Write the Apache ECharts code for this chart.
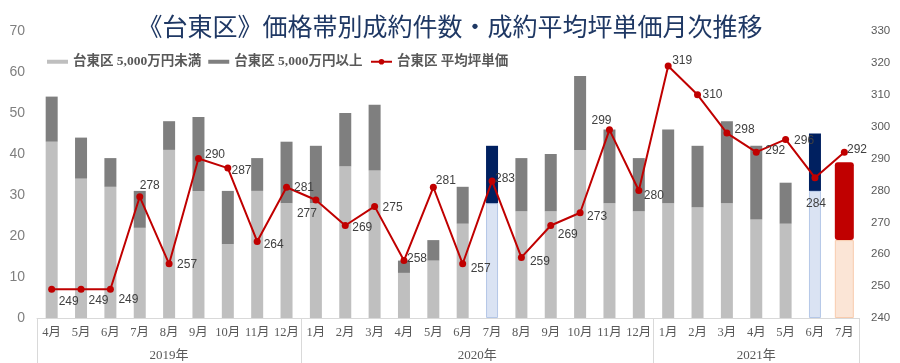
<!DOCTYPE html>
<html>
<head>
<meta charset="utf-8">
<script src="https://cdn.jsdelivr.net/npm/echarts@6/dist/echarts.min.js"></script>
<style>
html,body{margin:0;padding:0;background:#fff;}
#chart{width:900px;height:363px;}
</style>
</head>
<body>
<div id="chart"></div>
<script>
const months = ['4月','5月','6月','7月','8月','9月','10月','11月','12月',
  '1月','2月','3月','4月','5月','6月','7月','8月','9月','10月','11月','12月',
  '1月','2月','3月','4月','5月','6月','7月'];
const yearLabels = ['2019年','2020年','2021年'];
const monthsPerYear = [9, 12, 7];
const under5000 = [43,34,32,22,41,31,18,31,28, 28,37,36,11,14,23,28,26,26,41,28,26, 28,27,28,24,23,31,19];
const over5000  = [11,10,7,9,7,18,13,8,15, 14,13,16,3,5,9,14,13,14,18,18,13, 18,15,20,18,10,14,19];
const avgPrice  = [249,249,249,278,257,290,287,264,281, 277,269,275,258,281,257,283,259,269,273,299,280, 319,310,298,292,296,284,292];
const highlightIdx = [15, 26];
const wideIdx = 27;

const labelOffsets = [[17,12],[17.5,11],[18,10],[10,-11.5],[18,0.5],[16.5,-4],[13.7,3],[16.5,3],[17.5,0],
  [-9,13.6],[17,2],[18,1],[13,-2],[12.5,-7],[18,5],[13,-2],[18.5,4],[17,9],[17,3.5],[-8,-9.5],[15,5],
  [14,-5],[15,0],[17.7,-3.7],[19,-1],[18.5,1.7],[1,26],[12.7,-2]];

const nameA = '台東区 5,000万円未満';
const nameB = '台東区 5,000万円以上';
const nameC = '台東区 平均坪単価';

const C_LIGHT = '#bfbfbf', C_DARK = '#7f7f7f', C_RED = '#c00000';

// half-step categories for the year axis
const yearAxisData = [];
const boundaries = [0];
monthsPerYear.forEach((n, i) => boundaries.push(boundaries[i] + n));
for (let j = 0; j <= months.length * 2; j++) yearAxisData.push('');
for (let i = 0; i < yearLabels.length; i++) {
  yearAxisData[boundaries[i] + boundaries[i + 1]] = yearLabels[i];
}
const boundaryTicks = boundaries.map(b => b * 2);

const lightData = under5000.map((v, i) => {
  if (i === wideIdx) return null;
  if (highlightIdx.includes(i)) return {value: v, itemStyle: {color: '#dae3f3', borderColor: '#b4c7e7', borderWidth: 1}};
  return v;
});
const darkData = over5000.map((v, i) => {
  if (i === wideIdx) return null;
  if (highlightIdx.includes(i)) return {value: v, itemStyle: {color: '#002060'}};
  return v;
});
const wideLight = under5000.map((v, i) => i === wideIdx ? v : null);
const wideDark = over5000.map((v, i) => i === wideIdx ? v : null);

const serif = "'Liberation Serif', 'Noto Sans CJK JP', serif";
const sans = "'Liberation Sans', 'Noto Sans', sans-serif";

const chart = echarts.init(document.getElementById('chart'), null, {renderer: 'canvas'});
chart.setOption({
  animation: false,
  backgroundColor: '#ffffff',
  title: {
    text: '《台東区》価格帯別成約件数・成約平均坪単価月次推移',
    left: 'center', top: 14, padding: 0,
    textStyle: {fontFamily: "'Noto Sans CJK JP', sans-serif", fontSize: 25, fontWeight: 'normal', color: '#1f3864'}
  },
  legend: [{
    data: [nameA, nameB], left: 47, top: 55, padding: 0,
    itemWidth: 21, itemHeight: 4, itemGap: 7, icon: 'rect',
    textStyle: {fontFamily: serif, fontSize: 13.5, fontWeight: 'bold', color: '#595959'}
  }, {
    data: [nameC], left: 370, top: 55, padding: 0,
    itemWidth: 21, itemHeight: 7,
    textStyle: {fontFamily: serif, fontSize: 13.5, fontWeight: 'bold', color: '#595959'}
  }],
  grid: {left: 37, right: 41, top: 31, bottom: 45},
  xAxis: [{
    type: 'category', data: months, position: 'bottom',
    axisLine: {lineStyle: {color: '#d9d9d9'}},
    axisTick: {show: false},
    axisLabel: {margin: 8, fontFamily: serif, fontSize: 12.5, color: '#595959', interval: 0}
  }, {
    type: 'category', data: months, show: false
  }, {
    type: 'category', data: yearAxisData, position: 'bottom', boundaryGap: false,
    axisLine: {show: false},
    axisTick: {show: true, length: 45, lineStyle: {color: '#d9d9d9'},
      interval: (idx) => boundaryTicks.includes(idx)},
    axisLabel: {margin: 31, fontFamily: serif, fontSize: 13, color: '#595959',
      interval: (idx, val) => val !== ''}
  }],
  yAxis: [{
    type: 'value', min: 0, max: 70, interval: 10,
    axisLine: {show: false}, axisTick: {show: false}, splitLine: {show: false},
    axisLabel: {margin: 12, fontFamily: sans, fontSize: 14, color: '#7f7f7f'}
  }, {
    type: 'value', min: 240, max: 330, interval: 10, position: 'right',
    axisLine: {show: false}, axisTick: {show: false}, splitLine: {show: false},
    axisLabel: {margin: 12, fontFamily: sans, fontSize: 11.5, color: '#595959'}
  }],
  series: [{
    name: nameA, type: 'bar', stack: 'a', xAxisIndex: 0, yAxisIndex: 0,
    barWidth: 12, data: lightData, itemStyle: {color: C_LIGHT}
  }, {
    name: nameB, type: 'bar', stack: 'a', xAxisIndex: 0, yAxisIndex: 0,
    barWidth: 12, data: darkData, itemStyle: {color: C_DARK}
  }, {
    type: 'bar', stack: 'b', xAxisIndex: 1, yAxisIndex: 0, barWidth: 19,
    data: wideLight, itemStyle: {color: '#fbe5d6', borderColor: '#f8cbad', borderWidth: 1}
  }, {
    type: 'bar', stack: 'b', xAxisIndex: 1, yAxisIndex: 0, barWidth: 19,
    data: wideDark, itemStyle: {color: C_RED, borderRadius: 3}
  }, {
    name: nameC, type: 'line', xAxisIndex: 0, yAxisIndex: 1, z: 10,
    symbol: 'circle', symbolSize: 7,
    lineStyle: {color: C_RED, width: 2}, itemStyle: {color: C_RED},
    label: {show: true, position: 'inside', fontFamily: sans, fontSize: 12, color: '#404040'},
    data: avgPrice.map((v, i) => ({value: v, label: {offset: labelOffsets[i]}}))
  }]
});
</script>
</body>
</html>
